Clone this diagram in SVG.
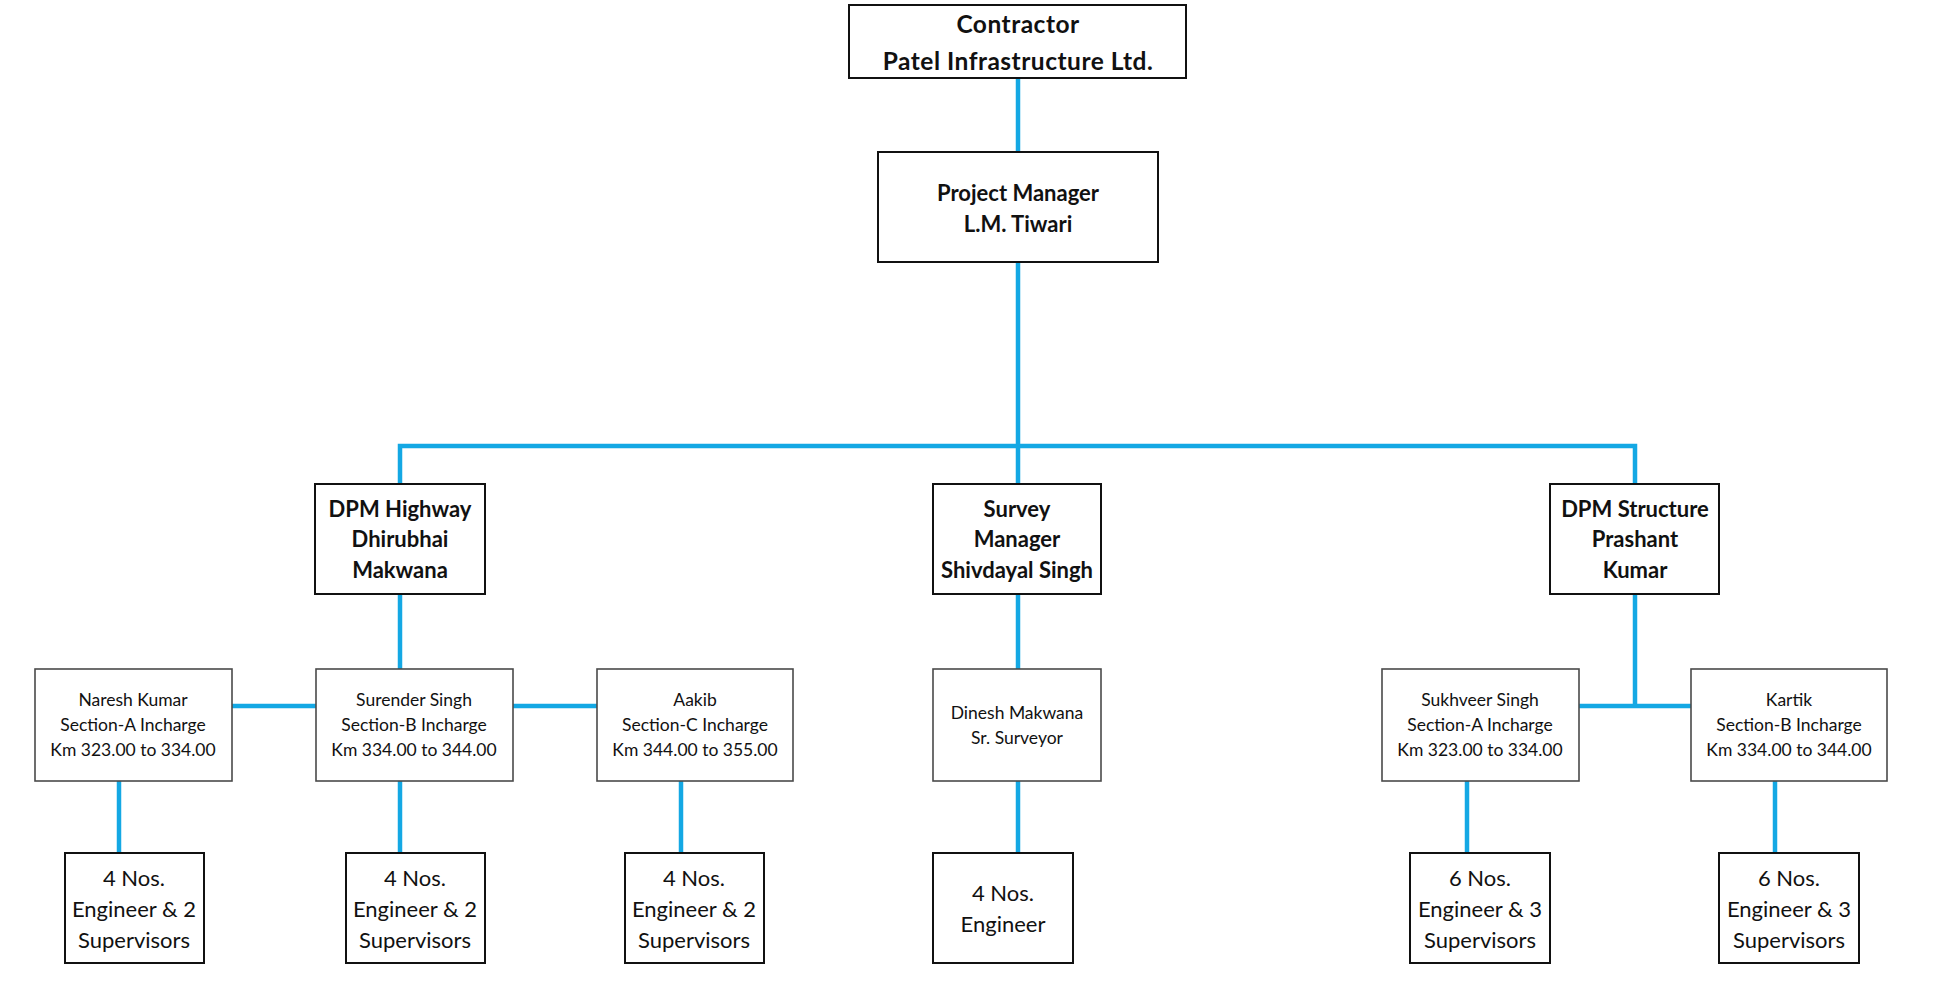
<svg xmlns="http://www.w3.org/2000/svg" width="1949" height="996" viewBox="0 0 1949 996">
<style>
.bg{fill:#ffffff}
.box{fill:#ffffff;stroke:#111;stroke-width:2}
.sbox{fill:#ffffff;stroke:#4a4a4a;stroke-width:1.6}
.b{font-family:Lato,"Liberation Sans",sans-serif;font-weight:bold;font-size:22px;fill:#111;text-anchor:middle}
.t{font-size:24.5px;letter-spacing:0.5px}
.s{font-family:Lato,"Liberation Sans",sans-serif;font-size:17.5px;fill:#111;text-anchor:middle}
.r{font-family:Lato,"Liberation Sans",sans-serif;font-size:22px;fill:#111;text-anchor:middle}
.c{fill:none;stroke:#14A8E4;stroke-width:4.5}
</style>
<rect class="bg" x="0" y="0" width="1949" height="996"/>
<g id="connectors">
<line class="c" x1="1018" y1="78" x2="1018" y2="152"/>
<line class="c" x1="1018" y1="262" x2="1018" y2="484"/>
<polyline class="c" points="400,484 400,446 1635,446 1635,484"/>
<line class="c" x1="400" y1="594" x2="400" y2="669"/>
<line class="c" x1="232" y1="706" x2="316" y2="706"/>
<line class="c" x1="513" y1="706" x2="597" y2="706"/>
<line class="c" x1="1018" y1="594" x2="1018" y2="669"/>
<line class="c" x1="1635" y1="594" x2="1635" y2="706"/>
<line class="c" x1="1579" y1="706" x2="1691" y2="706"/>
<line class="c" x1="119" y1="781" x2="119" y2="853"/>
<line class="c" x1="400" y1="781" x2="400" y2="853"/>
<line class="c" x1="681" y1="781" x2="681" y2="853"/>
<line class="c" x1="1018" y1="781" x2="1018" y2="853"/>
<line class="c" x1="1467" y1="781" x2="1467" y2="853"/>
<line class="c" x1="1775" y1="781" x2="1775" y2="853"/>
</g>
<g id="contractor">
<rect class="box" x="849" y="5" width="337" height="73"/>
<text class="b t" x="1018" y="33">Contractor</text>
<text class="b t" x="1018" y="70">Patel Infrastructure Ltd.</text>
</g>
<g id="project-manager">
<rect class="box" x="878" y="152" width="280" height="110"/>
<text class="b" x="1018" y="201">Project Manager</text>
<text class="b" x="1018" y="232">L.M. Tiwari</text>
</g>
<g id="dpm-highway">
<rect class="box" x="315" y="484" width="170" height="110"/>
<text class="b" x="400" y="517">DPM Highway</text>
<text class="b" x="400" y="547">Dhirubhai</text>
<text class="b" x="400" y="578">Makwana</text>
</g>
<g id="survey-manager">
<rect class="box" x="933" y="484" width="168" height="110"/>
<text class="b" x="1017" y="517">Survey</text>
<text class="b" x="1017" y="547">Manager</text>
<text class="b" x="1017" y="578">Shivdayal Singh</text>
</g>
<g id="dpm-structure">
<rect class="box" x="1550" y="484" width="169" height="110"/>
<text class="b" x="1635" y="517">DPM Structure</text>
<text class="b" x="1635" y="547">Prashant</text>
<text class="b" x="1635" y="578">Kumar</text>
</g>
<g id="naresh">
<rect class="sbox" x="35" y="669" width="197" height="112"/>
<text class="s" x="133" y="706">Naresh Kumar</text>
<text class="s" x="133" y="731">Section-A Incharge</text>
<text class="s" x="133" y="756">Km 323.00 to 334.00</text>
</g>
<g id="surender">
<rect class="sbox" x="316" y="669" width="197" height="112"/>
<text class="s" x="414" y="706">Surender Singh</text>
<text class="s" x="414" y="731">Section-B Incharge</text>
<text class="s" x="414" y="756">Km 334.00 to 344.00</text>
</g>
<g id="aakib">
<rect class="sbox" x="597" y="669" width="196" height="112"/>
<text class="s" x="695" y="706">Aakib</text>
<text class="s" x="695" y="731">Section-C Incharge</text>
<text class="s" x="695" y="756">Km 344.00 to 355.00</text>
</g>
<g id="dinesh">
<rect class="sbox" x="933" y="669" width="168" height="112"/>
<text class="s" x="1017" y="719">Dinesh Makwana</text>
<text class="s" x="1017" y="744">Sr. Surveyor</text>
</g>
<g id="sukhveer">
<rect class="sbox" x="1382" y="669" width="197" height="112"/>
<text class="s" x="1480" y="706">Sukhveer Singh</text>
<text class="s" x="1480" y="731">Section-A Incharge</text>
<text class="s" x="1480" y="756">Km 323.00 to 334.00</text>
</g>
<g id="kartik">
<rect class="sbox" x="1691" y="669" width="196" height="112"/>
<text class="s" x="1789" y="706">Kartik</text>
<text class="s" x="1789" y="731">Section-B Incharge</text>
<text class="s" x="1789" y="756">Km 334.00 to 344.00</text>
</g>
<g id="team-a-highway">
<rect class="box" x="65" y="853" width="139" height="110"/>
<text class="r" x="134" y="886">4 Nos.</text>
<text class="r" x="134" y="917">Engineer &amp; 2</text>
<text class="r" x="134" y="948">Supervisors</text>
</g>
<g id="team-b-highway">
<rect class="box" x="346" y="853" width="139" height="110"/>
<text class="r" x="415" y="886">4 Nos.</text>
<text class="r" x="415" y="917">Engineer &amp; 2</text>
<text class="r" x="415" y="948">Supervisors</text>
</g>
<g id="team-c-highway">
<rect class="box" x="625" y="853" width="139" height="110"/>
<text class="r" x="694" y="886">4 Nos.</text>
<text class="r" x="694" y="917">Engineer &amp; 2</text>
<text class="r" x="694" y="948">Supervisors</text>
</g>
<g id="team-survey">
<rect class="box" x="933" y="853" width="140" height="110"/>
<text class="r" x="1003" y="901">4 Nos.</text>
<text class="r" x="1003" y="932">Engineer</text>
</g>
<g id="team-a-structure">
<rect class="box" x="1410" y="853" width="140" height="110"/>
<text class="r" x="1480" y="886">6 Nos.</text>
<text class="r" x="1480" y="917">Engineer &amp; 3</text>
<text class="r" x="1480" y="948">Supervisors</text>
</g>
<g id="team-b-structure">
<rect class="box" x="1719" y="853" width="140" height="110"/>
<text class="r" x="1789" y="886">6 Nos.</text>
<text class="r" x="1789" y="917">Engineer &amp; 3</text>
<text class="r" x="1789" y="948">Supervisors</text>
</g>
</svg>
